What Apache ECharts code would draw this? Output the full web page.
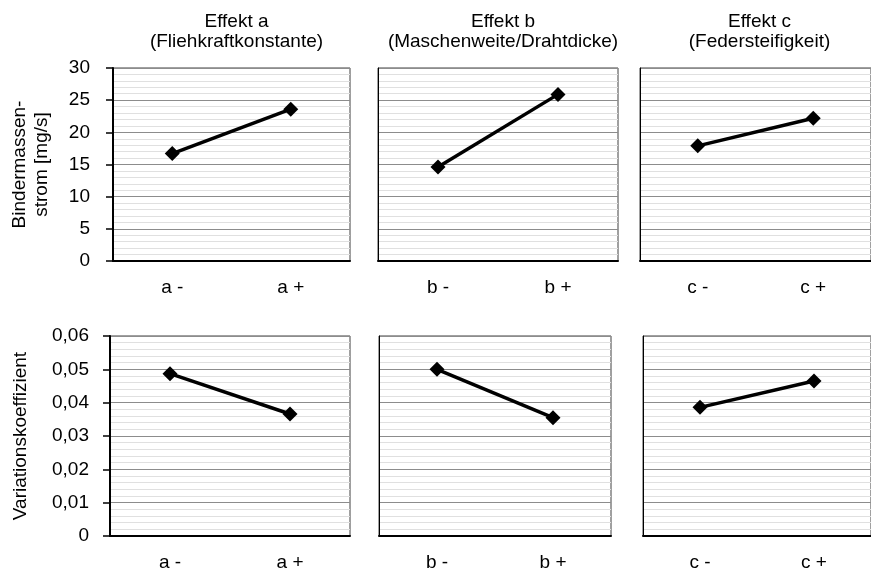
<!DOCTYPE html>
<html>
<head>
<meta charset="utf-8">
<script src="https://cdn.jsdelivr.net/npm/echarts@6/dist/echarts.min.js"></script>
<style>
  html, body { margin: 0; padding: 0; background: #fff; }
  #main { width: 871px; height: 572px; }
</style>
</head>
<body>
<div id="main"></div>
<script>
var chartDom = document.getElementById('main');
var myChart = echarts.init(chartDom);

// effects / categories
var effectTitles = ['Effekt a\n(Fliehkraftkonstante)', 'Effekt b\n(Maschenweite/Drahtdicke)', 'Effekt c\n(Federsteifigkeit)'];
var catsA = ['a -', 'a +'];
var catsB = ['b -', 'b +'];
var catsC = ['c -', 'c +'];

// Bindermassenstrom [mg/s]
var massA = [16.7, 23.6];
var massB = [14.6, 25.9];
var massC = [17.9, 22.2];

// Variationskoeffizient
var cvA = [0.0487, 0.0366];
var cvB = [0.0500, 0.0355];
var cvC = [0.0386, 0.0465];

var font = 'Liberation Sans, Arial, sans-serif';
var fs = 19;

var grids = [
  { left: 113, top: 68, width: 237, height: 193 },
  { left: 378, top: 68, width: 240, height: 193 },
  { left: 640, top: 68, width: 233, height: 193 },
  { left: 110, top: 336, width: 240, height: 203 },
  { left: 379, top: 336, width: 232, height: 203 },
  { left: 643, top: 336, width: 230, height: 203 }
];
var cats = [catsA, catsB, catsC, catsA, catsB, catsC];
var values = [massA, massB, massC, cvA, cvB, cvC];

var gridOpts = grids.map(function (g) {
  return {
    left: g.left, top: g.top, width: g.width, height: g.height,
    show: true, borderColor: '#404040', borderWidth: 1,
    containLabel: false
  };
});

var xAxes = cats.map(function (c, i) {
  return {
    type: 'category',
    gridIndex: i,
    data: c,
    boundaryGap: true,
    axisLine: { show: true, lineStyle: { color: '#000', width: 2 } },
    axisTick: { show: false },
    axisLabel: { color: '#000', fontSize: fs, fontFamily: font, margin: 17 },
    splitLine: { show: false }
  };
});

function cvFormat(v) {
  if (v === 0) return '0';
  return v.toFixed(2).replace('.', ',');
}

var yAxes = values.map(function (v, i) {
  var top = i < 3;
  var first = i === 0 || i === 3;
  var ax = {
    type: 'value',
    gridIndex: i,
    min: 0,
    max: top ? 30 : 0.06,
    interval: top ? 5 : 0.01,
    axisLine: { show: true, lineStyle: { color: '#000', width: first ? 2 : 1 } },
    axisTick: { show: first, length: 7, inside: false, lineStyle: { color: '#000', width: 1.5 } },
    axisLabel: {
      show: first, color: '#000', fontSize: fs, fontFamily: font, margin: top ? 23 : 21,
      formatter: top ? '{value}' : cvFormat
    },
    splitLine: { show: true, lineStyle: { color: '#8c8c8c', width: 1 } },
    minorTick: { show: false, splitNumber: 5 },
    minorSplitLine: { show: true, lineStyle: { color: '#e0e0e0', width: 1 } }
  };
  if (i === 0) {
    ax.name = 'Bindermassen-\nstrom [mg/s]';
    ax.nameLocation = 'middle';
    ax.nameRotate = 90;
    ax.nameGap = 60;
    ax.nameTextStyle = { color: '#000', fontSize: fs, fontFamily: font, lineHeight: 22 };
  }
  if (i === 3) {
    ax.name = 'Variationskoeffizient';
    ax.nameLocation = 'middle';
    ax.nameRotate = 90;
    ax.nameGap = 80;
    ax.nameTextStyle = { color: '#000', fontSize: fs, fontFamily: font };
  }
  return ax;
});

var series = values.map(function (v, i) {
  return {
    type: 'line',
    xAxisIndex: i,
    yAxisIndex: i,
    data: v,
    symbol: 'diamond',
    symbolSize: 15,
    showSymbol: true,
    lineStyle: { color: '#000', width: 3.5 },
    itemStyle: { color: '#000' },
    animation: false
  };
});

var titles = effectTitles.map(function (t, i) {
  var g = grids[i];
  var w = i === 2 ? 229 : g.width;
  return {
    text: t,
    left: g.left + w / 2,
    top: 7,
    textAlign: 'center',
    textStyle: { color: '#000', fontSize: fs, fontWeight: 'normal', fontFamily: font, lineHeight: 20 }
  };
});

var option = {
  backgroundColor: '#fff',
  animation: false,
  title: titles,
  grid: gridOpts,
  xAxis: xAxes,
  yAxis: yAxes,
  series: series
};

option && myChart.setOption(option);
window.addEventListener('resize', function () {
  myChart.resize();
});
</script>
</body>
</html>
